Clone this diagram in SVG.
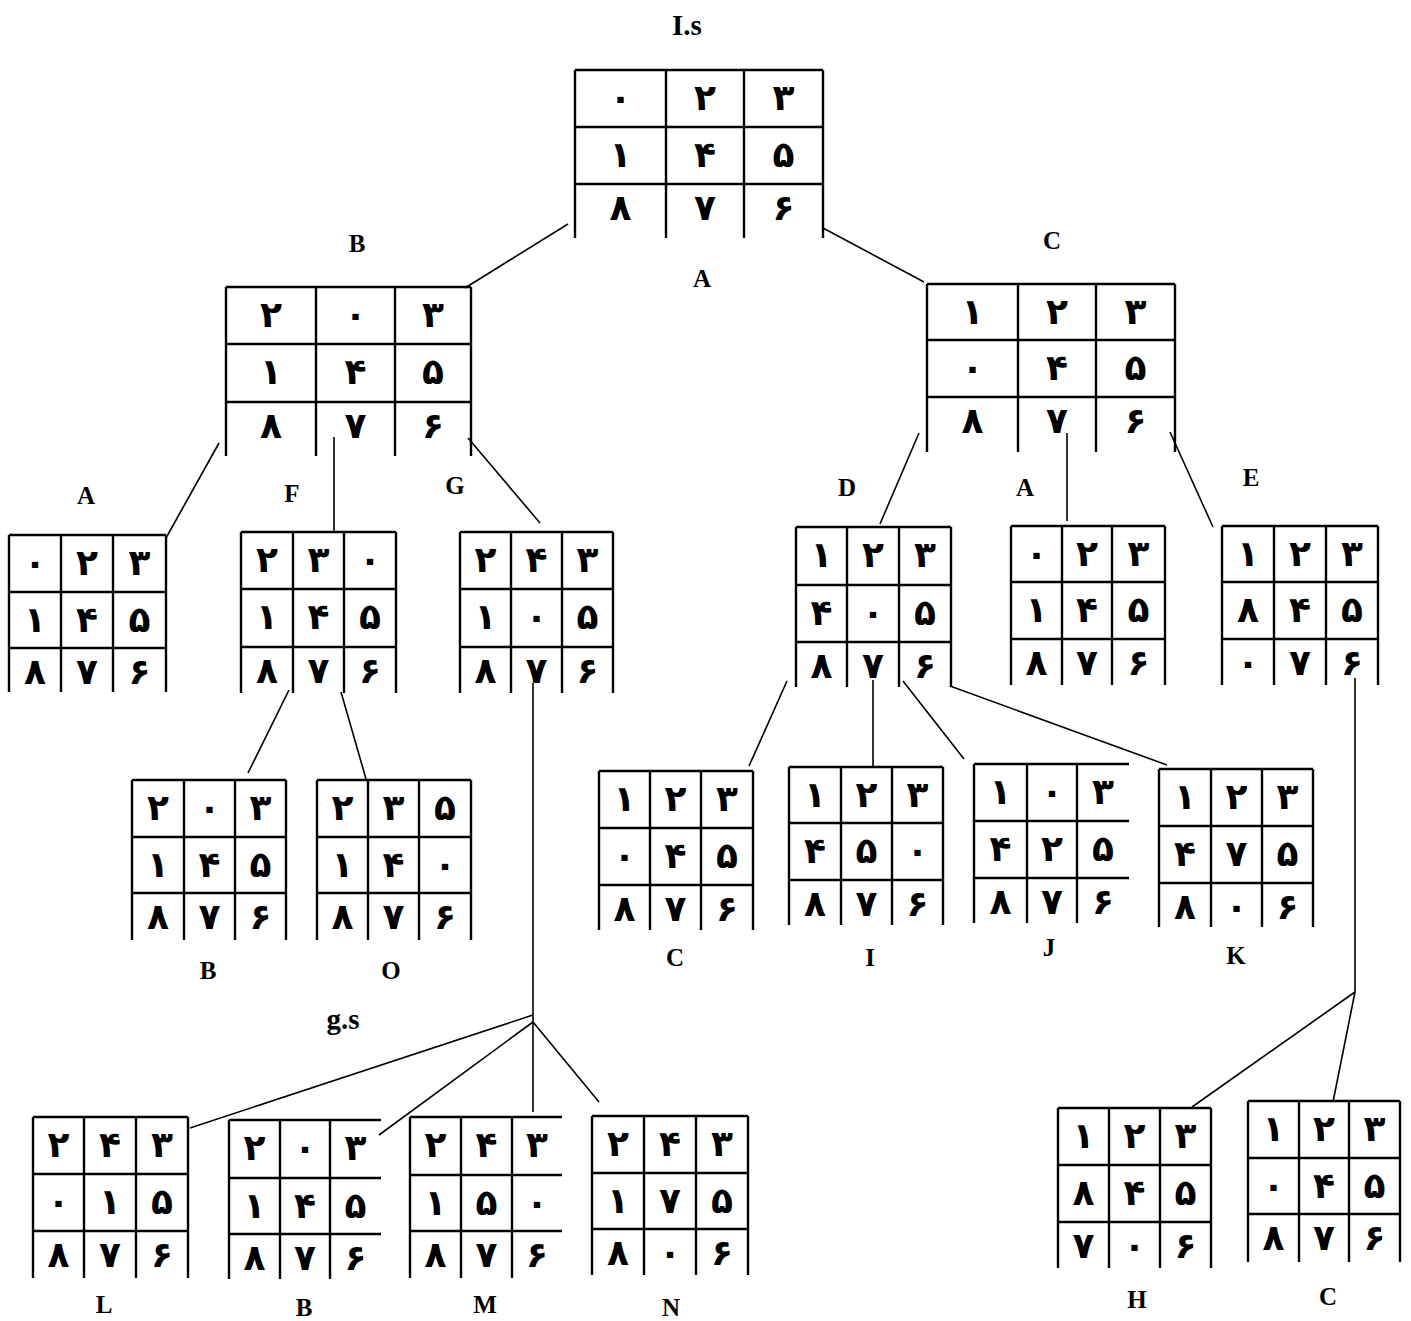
<svg xmlns="http://www.w3.org/2000/svg" width="1411" height="1321" viewBox="0 0 1411 1321">
<style>
.grid{fill:none;stroke:#000;stroke-width:2.4}
.conn line{stroke:#000;stroke-width:1.6}
.d{font-family:"DejaVu Sans","Noto Sans",sans-serif;font-weight:bold;font-size:36px;text-anchor:middle}
.lb{font-family:"Liberation Serif","Times New Roman",serif;font-weight:bold;font-size:25px;text-anchor:middle}
.big{font-size:29px}
</style>
<rect width="1411" height="1321" fill="#fff"/>
<g id="connectors" class="conn">
<line x1="568" y1="224" x2="465" y2="288"/>
<line x1="823" y1="228" x2="924" y2="282"/>
<line x1="219" y1="443" x2="166" y2="538"/>
<line x1="334" y1="437" x2="334" y2="532"/>
<line x1="468" y1="438" x2="540" y2="523"/>
<line x1="919" y1="433" x2="880" y2="524"/>
<line x1="1067" y1="433" x2="1067" y2="521"/>
<line x1="1170" y1="432" x2="1213" y2="527"/>
<line x1="289" y1="690" x2="248" y2="773"/>
<line x1="341" y1="692" x2="366" y2="779"/>
<line x1="533" y1="683" x2="533" y2="1112"/>
<line x1="533" y1="1015" x2="190" y2="1128"/>
<line x1="533" y1="1022" x2="379" y2="1135"/>
<line x1="533" y1="1022" x2="599" y2="1102"/>
<line x1="787" y1="681" x2="749" y2="766"/>
<line x1="873" y1="680" x2="873" y2="767"/>
<line x1="903" y1="681" x2="964" y2="759"/>
<line x1="950" y1="686" x2="1167" y2="765"/>
<line x1="1355" y1="678" x2="1355" y2="992"/>
<line x1="1355" y1="992" x2="1192" y2="1107"/>
<line x1="1355" y1="992" x2="1333" y2="1102"/>
</g>
<g id="labels">
<text class="lb big" x="687" y="35">I.s</text>
<text class="lb" x="702" y="287">A</text>
</g>
<g id="node-root">
<path class="grid" d="M575 70H823M575 127H823M575 184H823M575 70V238M666 70V238M744 70V238M823 70V238"/>
<text class="d" x="620.5" y="110">۰</text><text class="d" x="705" y="110">۲</text><text class="d" x="783.5" y="110">۳</text>
<text class="d" x="620.5" y="167">۱</text><text class="d" x="705" y="167">۴</text><text class="d" x="783.5" y="167">۵</text>
<text class="d" x="620.5" y="220">۸</text><text class="d" x="705" y="220">۷</text><text class="d" x="783.5" y="220">۶</text>
</g>
<g id="node-B">
<text class="lb" x="357" y="252">B</text>
<path class="grid" d="M226 287H471M226 344H471M226 402H471M226 287V456M316 287V456M395 287V456M471 287V456"/>
<text class="d" x="271" y="327">۲</text><text class="d" x="355.5" y="327">۰</text><text class="d" x="433" y="327">۳</text>
<text class="d" x="271" y="384">۱</text><text class="d" x="355.5" y="384">۴</text><text class="d" x="433" y="384">۵</text>
<text class="d" x="271" y="438">۸</text><text class="d" x="355.5" y="438">۷</text><text class="d" x="433" y="438">۶</text>
</g>
<g id="node-C">
<text class="lb" x="1052" y="249">C</text>
<path class="grid" d="M927 284H1175M927 340H1175M927 397H1175M927 284V452M1018 284V452M1096 284V452M1175 284V452"/>
<text class="d" x="972.5" y="324">۱</text><text class="d" x="1057" y="324">۲</text><text class="d" x="1135.5" y="324">۳</text>
<text class="d" x="972.5" y="380">۰</text><text class="d" x="1057" y="380">۴</text><text class="d" x="1135.5" y="380">۵</text>
<text class="d" x="972.5" y="433">۸</text><text class="d" x="1057" y="433">۷</text><text class="d" x="1135.5" y="433">۶</text>
</g>
<g id="node-A1">
<text class="lb" x="86" y="504">A</text>
<path class="grid" d="M9 535H166M9 592H166M9 648H166M9 535V692M61 535V692M113 535V692M166 535V692"/>
<text class="d" x="35" y="575">۰</text><text class="d" x="87" y="575">۲</text><text class="d" x="139.5" y="575">۳</text>
<text class="d" x="35" y="632">۱</text><text class="d" x="87" y="632">۴</text><text class="d" x="139.5" y="632">۵</text>
<text class="d" x="35" y="684">۸</text><text class="d" x="87" y="684">۷</text><text class="d" x="139.5" y="684">۶</text>
</g>
<g id="node-F">
<text class="lb" x="292" y="502">F</text>
<path class="grid" d="M241 532H396M241 589H396M241 647H396M241 532V693M293 532V693M344 532V693M396 532V693"/>
<text class="d" x="267" y="572">۲</text><text class="d" x="318.5" y="572">۳</text><text class="d" x="370" y="572">۰</text>
<text class="d" x="267" y="629">۱</text><text class="d" x="318.5" y="629">۴</text><text class="d" x="370" y="629">۵</text>
<text class="d" x="267" y="683">۸</text><text class="d" x="318.5" y="683">۷</text><text class="d" x="370" y="683">۶</text>
</g>
<g id="node-G">
<text class="lb" x="455" y="494">G</text>
<path class="grid" d="M460 532H613M460 589H613M460 647H613M460 532V693M511 532V693M562 532V693M613 532V693"/>
<text class="d" x="485.5" y="572">۲</text><text class="d" x="536.5" y="572">۴</text><text class="d" x="587.5" y="572">۳</text>
<text class="d" x="485.5" y="629">۱</text><text class="d" x="536.5" y="629">۰</text><text class="d" x="587.5" y="629">۵</text>
<text class="d" x="485.5" y="683">۸</text><text class="d" x="536.5" y="683">۷</text><text class="d" x="587.5" y="683">۶</text>
</g>
<g id="node-D">
<text class="lb" x="847" y="496">D</text>
<path class="grid" d="M796 527H951M796 585H951M796 642H951M796 527V687M847 527V687M899 527V687M951 527V687"/>
<text class="d" x="821.5" y="567">۱</text><text class="d" x="873" y="567">۲</text><text class="d" x="925" y="567">۳</text>
<text class="d" x="821.5" y="625">۴</text><text class="d" x="873" y="625">۰</text><text class="d" x="925" y="625">۵</text>
<text class="d" x="821.5" y="678">۸</text><text class="d" x="873" y="678">۷</text><text class="d" x="925" y="678">۶</text>
</g>
<g id="node-A2">
<text class="lb" x="1025" y="496">A</text>
<path class="grid" d="M1011 526H1165M1011 582H1165M1011 639H1165M1011 526V685M1062 526V685M1112 526V685M1165 526V685"/>
<text class="d" x="1036.5" y="566">۰</text><text class="d" x="1087" y="566">۲</text><text class="d" x="1138.5" y="566">۳</text>
<text class="d" x="1036.5" y="622">۱</text><text class="d" x="1087" y="622">۴</text><text class="d" x="1138.5" y="622">۵</text>
<text class="d" x="1036.5" y="675">۸</text><text class="d" x="1087" y="675">۷</text><text class="d" x="1138.5" y="675">۶</text>
</g>
<g id="node-E">
<text class="lb" x="1251" y="486">E</text>
<path class="grid" d="M1222 526H1378M1222 582H1378M1222 639H1378M1222 526V685M1274 526V685M1326 526V685M1378 526V685"/>
<text class="d" x="1248" y="566">۱</text><text class="d" x="1300" y="566">۲</text><text class="d" x="1352" y="566">۳</text>
<text class="d" x="1248" y="622">۸</text><text class="d" x="1300" y="622">۴</text><text class="d" x="1352" y="622">۵</text>
<text class="d" x="1248" y="675">۰</text><text class="d" x="1300" y="675">۷</text><text class="d" x="1352" y="675">۶</text>
</g>
<g id="node-B2">
<path class="grid" d="M132 780H286M132 837H286M132 893H286M132 780V940M184 780V940M235 780V940M286 780V940"/>
<text class="d" x="158" y="820">۲</text><text class="d" x="209.5" y="820">۰</text><text class="d" x="260.5" y="820">۳</text>
<text class="d" x="158" y="877">۱</text><text class="d" x="209.5" y="877">۴</text><text class="d" x="260.5" y="877">۵</text>
<text class="d" x="158" y="929">۸</text><text class="d" x="209.5" y="929">۷</text><text class="d" x="260.5" y="929">۶</text>
<text class="lb" x="208" y="979">B</text>
</g>
<g id="node-O">
<path class="grid" d="M317 780H471M317 837H471M317 893H471M317 780V940M368 780V940M419 780V940M471 780V940"/>
<text class="d" x="342.5" y="820">۲</text><text class="d" x="393.5" y="820">۳</text><text class="d" x="445" y="820">۵</text>
<text class="d" x="342.5" y="877">۱</text><text class="d" x="393.5" y="877">۴</text><text class="d" x="445" y="877">۰</text>
<text class="d" x="342.5" y="929">۸</text><text class="d" x="393.5" y="929">۷</text><text class="d" x="445" y="929">۶</text>
<text class="lb" x="391" y="979">O</text>
</g>
<g id="node-C2">
<path class="grid" d="M599 771H753M599 828H753M599 885H753M599 771V930M650 771V930M701 771V930M753 771V930"/>
<text class="d" x="624.5" y="811">۱</text><text class="d" x="675.5" y="811">۲</text><text class="d" x="727" y="811">۳</text>
<text class="d" x="624.5" y="868">۰</text><text class="d" x="675.5" y="868">۴</text><text class="d" x="727" y="868">۵</text>
<text class="d" x="624.5" y="921">۸</text><text class="d" x="675.5" y="921">۷</text><text class="d" x="727" y="921">۶</text>
<text class="lb" x="675" y="966">C</text>
</g>
<g id="node-I">
<path class="grid" d="M789 767H943M789 823H943M789 880H943M789 767V925M841 767V925M892 767V925M943 767V925"/>
<text class="d" x="815" y="807">۱</text><text class="d" x="866.5" y="807">۲</text><text class="d" x="917.5" y="807">۳</text>
<text class="d" x="815" y="863">۴</text><text class="d" x="866.5" y="863">۵</text><text class="d" x="917.5" y="863">۰</text>
<text class="d" x="815" y="916">۸</text><text class="d" x="866.5" y="916">۷</text><text class="d" x="917.5" y="916">۶</text>
<text class="lb" x="870" y="966">I</text>
</g>
<g id="node-J">
<path class="grid" d="M974 764H1129M974 821H1129M974 878H1129M974 764V923M1027 764V923M1077 764V923"/>
<text class="d" x="1000.5" y="804">۱</text><text class="d" x="1052" y="804">۰</text><text class="d" x="1103" y="804">۳</text>
<text class="d" x="1000.5" y="861">۴</text><text class="d" x="1052" y="861">۲</text><text class="d" x="1103" y="861">۵</text>
<text class="d" x="1000.5" y="914">۸</text><text class="d" x="1052" y="914">۷</text><text class="d" x="1103" y="914">۶</text>
<text class="lb" x="1049" y="956">J</text>
</g>
<g id="node-K">
<path class="grid" d="M1159 769H1313M1159 826H1313M1159 883H1313M1159 769V927M1211 769V927M1262 769V927M1313 769V927"/>
<text class="d" x="1185" y="809">۱</text><text class="d" x="1236.5" y="809">۲</text><text class="d" x="1287.5" y="809">۳</text>
<text class="d" x="1185" y="866">۴</text><text class="d" x="1236.5" y="866">۷</text><text class="d" x="1287.5" y="866">۵</text>
<text class="d" x="1185" y="919">۸</text><text class="d" x="1236.5" y="919">۰</text><text class="d" x="1287.5" y="919">۶</text>
<text class="lb" x="1236" y="964">K</text>
</g>
<g id="node-gs">
<text class="lb big" x="343" y="1029">g.s</text>
</g>
<g id="node-L">
<path class="grid" d="M33 1117H188M33 1174H188M33 1231H188M33 1117V1278M84 1117V1278M136 1117V1278M188 1117V1278"/>
<text class="d" x="58.5" y="1157">۲</text><text class="d" x="110" y="1157">۴</text><text class="d" x="162" y="1157">۳</text>
<text class="d" x="58.5" y="1214">۰</text><text class="d" x="110" y="1214">۱</text><text class="d" x="162" y="1214">۵</text>
<text class="d" x="58.5" y="1267">۸</text><text class="d" x="110" y="1267">۷</text><text class="d" x="162" y="1267">۶</text>
<text class="lb" x="104" y="1313">L</text>
</g>
<g id="node-B3">
<path class="grid" d="M229 1120H381M229 1178H381M229 1234H381M229 1120V1279M280 1120V1279M330 1120V1279"/>
<text class="d" x="254.5" y="1160">۲</text><text class="d" x="305" y="1160">۰</text><text class="d" x="355.5" y="1160">۳</text>
<text class="d" x="254.5" y="1218">۱</text><text class="d" x="305" y="1218">۴</text><text class="d" x="355.5" y="1218">۵</text>
<text class="d" x="254.5" y="1270">۸</text><text class="d" x="305" y="1270">۷</text><text class="d" x="355.5" y="1270">۶</text>
<text class="lb" x="304" y="1316">B</text>
</g>
<g id="node-M">
<path class="grid" d="M410 1117H562M410 1175H562M410 1231H562M410 1117V1278M461 1117V1278M512 1117V1278"/>
<text class="d" x="435.5" y="1157">۲</text><text class="d" x="486.5" y="1157">۴</text><text class="d" x="537" y="1157">۳</text>
<text class="d" x="435.5" y="1215">۱</text><text class="d" x="486.5" y="1215">۵</text><text class="d" x="537" y="1215">۰</text>
<text class="d" x="435.5" y="1267">۸</text><text class="d" x="486.5" y="1267">۷</text><text class="d" x="537" y="1267">۶</text>
<text class="lb" x="485" y="1313">M</text>
</g>
<g id="node-N">
<path class="grid" d="M592 1116H748M592 1173H748M592 1229H748M592 1116V1275M644 1116V1275M696 1116V1275M748 1116V1275"/>
<text class="d" x="618" y="1156">۲</text><text class="d" x="670" y="1156">۴</text><text class="d" x="722" y="1156">۳</text>
<text class="d" x="618" y="1213">۱</text><text class="d" x="670" y="1213">۷</text><text class="d" x="722" y="1213">۵</text>
<text class="d" x="618" y="1265">۸</text><text class="d" x="670" y="1265">۰</text><text class="d" x="722" y="1265">۶</text>
<text class="lb" x="671" y="1316">N</text>
</g>
<g id="node-H">
<path class="grid" d="M1058 1108H1211M1058 1165H1211M1058 1222H1211M1058 1108V1268M1109 1108V1268M1160 1108V1268M1211 1108V1268"/>
<text class="d" x="1083.5" y="1148">۱</text><text class="d" x="1134.5" y="1148">۲</text><text class="d" x="1185.5" y="1148">۳</text>
<text class="d" x="1083.5" y="1205">۸</text><text class="d" x="1134.5" y="1205">۴</text><text class="d" x="1185.5" y="1205">۵</text>
<text class="d" x="1083.5" y="1258">۷</text><text class="d" x="1134.5" y="1258">۰</text><text class="d" x="1185.5" y="1258">۶</text>
<text class="lb" x="1137" y="1308">H</text>
</g>
<g id="node-C3">
<path class="grid" d="M1248 1101H1400M1248 1158H1400M1248 1214H1400M1248 1101V1262M1299 1101V1262M1349 1101V1262M1400 1101V1262"/>
<text class="d" x="1273.5" y="1141">۱</text><text class="d" x="1324" y="1141">۲</text><text class="d" x="1374.5" y="1141">۳</text>
<text class="d" x="1273.5" y="1198">۰</text><text class="d" x="1324" y="1198">۴</text><text class="d" x="1374.5" y="1198">۵</text>
<text class="d" x="1273.5" y="1250">۸</text><text class="d" x="1324" y="1250">۷</text><text class="d" x="1374.5" y="1250">۶</text>
<text class="lb" x="1328" y="1305">C</text>
</g>
</svg>
